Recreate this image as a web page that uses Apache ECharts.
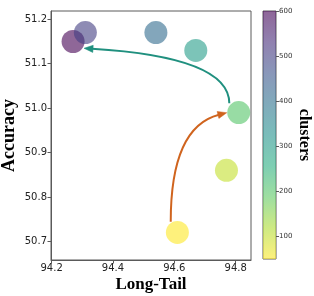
<!DOCTYPE html>
<html>
<head>
<meta charset="utf-8">
<script src="https://cdn.jsdelivr.net/npm/echarts@6/dist/echarts.min.js"></script>
<style>
html,body{margin:0;padding:0;background:#fff;}
#c{width:314px;height:296px;}
</style>
</head>
<body>
<div id="c"></div>
<script>
// ---- data ----
var longTail = [94.27, 94.31, 94.54, 94.67, 94.81, 94.77, 94.61];
var accuracy = [51.15, 51.17, 51.17, 51.13, 50.99, 50.86, 50.72];
var clusters = [600, 500, 410, 300, 200, 100, 50];
var xTicks = [94.2, 94.4, 94.6, 94.8];
var yTicks = [50.7, 50.8, 50.9, 51.0, 51.1, 51.2];
var cbTicks = [100, 200, 300, 400, 500, 600];
// arrows: [startX, startY, ctrlX, ctrlY, endX, endY] in data coordinates
var arrowTeal = [94.7793, 51.0108, 94.7784, 51.1151, 94.3056, 51.1347];
var arrowOrange = [94.5883, 50.7442, 94.5883, 50.9574, 94.7709, 50.9896];
var arrowColors = ['#20907f', '#d0641e'];

var viridis = ['#440154', '#472d7b', '#3b528b', '#2c728e', '#21918c', '#28ae80', '#5ec962', '#addc30', '#fde725'];

var chart = echarts.init(document.getElementById('c'), null, {renderer: 'canvas'});

var pts = longTail.map(function (x, i) { return [x, accuracy[i], clusters[i]]; });

var gradStops = viridis.map(function (c, i) { return {offset: i / (viridis.length - 1), color: c}; });

var axisCol = '#5a5a5a';
var tickFont = {fontFamily: 'DejaVu Sans', fontSize: 10, color: '#222'};

function renderArrow(params, api) {
  var p1 = api.coord([api.value(0), api.value(1)]);
  var cp = api.coord([api.value(2), api.value(3)]);
  var p2 = api.coord([api.value(4), api.value(5)]);
  var col = arrowColors[params.dataIndex];
  var dx = p2[0] - cp[0], dy = p2[1] - cp[1];
  var len = Math.sqrt(dx * dx + dy * dy);
  var ux = dx / len, uy = dy / len;
  var hl = 9, hw = 3.6;
  var bx = p2[0] - ux * hl, by = p2[1] - uy * hl;
  var lx = p2[0] - ux * (hl - 1), ly = p2[1] - uy * (hl - 1);
  return {
    type: 'group',
    children: [
      {type: 'bezierCurve', shape: {x1: p1[0], y1: p1[1], cpx1: cp[0], cpy1: cp[1], x2: lx, y2: ly},
        style: {stroke: col, lineWidth: 2, fill: null}},
      {type: 'polygon', shape: {points: [[p2[0], p2[1]], [bx - uy * hw, by + ux * hw], [bx + uy * hw, by - ux * hw]]},
        style: {fill: col, stroke: col, lineWidth: 0.5}}
    ]
  };
}

chart.setOption({
  animation: false,
  backgroundColor: '#fff',
  grid: [
    {left: 51, top: 11, width: 200, height: 249, show: true, borderColor: axisCol, borderWidth: 1, backgroundColor: 'transparent', containLabel: false, outerBoundsMode: 'none'},
    {left: 263, top: 11, width: 13, height: 248, show: true, borderColor: axisCol, borderWidth: 1, backgroundColor: 'transparent', containLabel: false, outerBoundsMode: 'none'}
  ],
  xAxis: [
    {
      type: 'value', gridIndex: 0, min: 94.198, max: 94.85,
      axisLine: {show: true, lineStyle: {color: axisCol, width: 1}},
      axisTick: {show: true, length: 3.5, lineStyle: {color: axisCol}, customValues: xTicks},
      axisLabel: Object.assign({margin: 3, customValues: xTicks, formatter: function (v) { return v.toFixed(1); }}, tickFont),
      splitLine: {show: false},
      name: 'Long-Tail', nameLocation: 'middle', nameGap: 16, nameMoveOverlap: false,
      nameTextStyle: {fontFamily: 'Liberation Serif', fontWeight: 'bold', fontSize: 17, color: '#000'}
    },
    {
      type: 'category', gridIndex: 1, data: ['cb'], show: false
    }
  ],
  yAxis: [
    {
      type: 'value', gridIndex: 0, min: 50.6579, max: 51.2187,
      axisLine: {show: true, lineStyle: {color: axisCol, width: 1}},
      axisTick: {show: true, length: 3.5, lineStyle: {color: axisCol}, customValues: yTicks},
      axisLabel: Object.assign({margin: 4, customValues: yTicks, formatter: function (v) { return v.toFixed(1); }}, tickFont),
      splitLine: {show: false},
      name: 'Accuracy', nameLocation: 'middle', nameGap: 33, nameRotate: 90, nameMoveOverlap: false,
      nameTextStyle: {fontFamily: 'Liberation Serif', fontWeight: 'bold', fontSize: 18, color: '#000'}
    },
    {
      type: 'value', gridIndex: 1, min: 50, max: 600, position: 'right',
      axisLine: {show: false},
      axisTick: {show: true, length: 3, lineStyle: {color: axisCol}, customValues: cbTicks},
      axisLabel: {margin: 3, customValues: cbTicks, fontFamily: 'DejaVu Sans', fontSize: 7, color: '#333'},
      splitLine: {show: false},
      name: 'clusters', nameLocation: 'middle', nameGap: 20, nameRotate: -90, nameMoveOverlap: false,
      nameTextStyle: {fontFamily: 'Liberation Serif', fontWeight: 'bold', fontSize: 16, color: '#000'}
    }
  ],
  visualMap: {
    show: false, type: 'continuous', seriesIndex: 0, dimension: 2, min: 50, max: 600,
    inRange: {color: viridis.slice().reverse()}
  },
  series: [
    {
      type: 'scatter', xAxisIndex: 0, yAxisIndex: 0, data: pts, symbolSize: 23,
      itemStyle: {opacity: 0.6}, z: 2
    },
    {
      type: 'custom', xAxisIndex: 0, yAxisIndex: 0, renderItem: renderArrow, clip: false,
      encode: {x: [0, 2, 4], y: [1, 3, 5]},
      data: [arrowTeal, arrowOrange], z: 3
    },
    {
      type: 'bar', xAxisIndex: 1, yAxisIndex: 1, data: [600], barWidth: '100%',
      itemStyle: {opacity: 0.6, color: new echarts.graphic.LinearGradient(0, 0, 0, 1, gradStops)}
    }
  ]
});
</script>
</body>
</html>
